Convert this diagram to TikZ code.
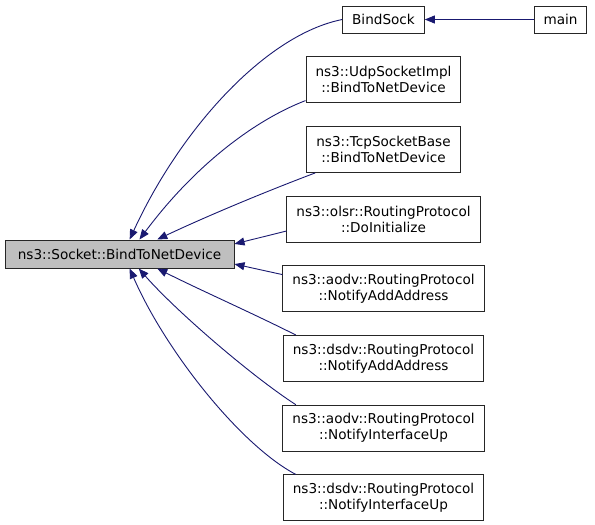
\documentclass[tikz,border=0pt]{standalone}
\usepackage{fontspec}
\setmainfont{DejaVu Sans}
\usetikzlibrary{arrows.meta}
\usetikzlibrary{positioning}
\definecolor{midnight}{HTML}{191970}
\definecolor{grey75}{HTML}{BFBFBF}
\tikzset {
  graph node/.style = {
    draw = black!85,
    line width = 1pt,
    rectangle,
    inner xsep = 9.5pt,
    inner ysep = 2pt,
    align = center,
    font = \fontsize{13.6}{16}\selectfont
  },
  % single line function
  func/.style = {
    graph node,
    minimum height = 27pt
  },
  % qualified member, two lines
  member/.style = {
    graph node,
    minimum height = 46pt
  },
  % the function the graph is about
  focus/.style = {
    func,
    fill = grey75,
    minimum width = 229pt,
    minimum height = 28pt
  },
  node distance = 22.7pt
}
\tikzset {
  % call edge, arrow points at the callee
  call/.style = {
    draw = midnight,
    line width = 0.9pt,
    -{Triangle[length=10pt,width=8pt]}
  }
}

\begin{document}
\begin{tikzpicture}[x=1pt,y=-1pt]
    \useasboundingbox (0,0) rectangle (595,525);

    \node[focus] (socket) at (119.5,254) {ns3::Socket::BindToNetDevice};
    \node[func] (bindsock) at (383.5,19.5) {BindSock};
    \node[func] (main) at (560.5,19.5) {main};
    \node[member] (udp) [below=of bindsock] {ns3::UdpSocketImpl\\::BindToNetDevice};
    \node[member] (tcp) [below=of udp] {ns3::TcpSocketBase\\::BindToNetDevice};
    \node[member] (olsr) [below=of tcp] {ns3::olsr::RoutingProtocol\\::DoInitialize};
    \node[member] (aodv add) [below=of olsr] {ns3::aodv::RoutingProtocol\\::NotifyAddAddress};
    \node[member] (dsdv add) [below=of aodv add] {ns3::dsdv::RoutingProtocol\\::NotifyAddAddress};
    \node[member] (aodv up) [below=of dsdv add] {ns3::aodv::RoutingProtocol\\::NotifyInterfaceUp};
    \node[member] (dsdv up) [below=of aodv up] {ns3::dsdv::RoutingProtocol\\::NotifyInterfaceUp};

    \draw[call] (main) -- (bindsock);

    \draw[call] (bindsock.west)
      .. controls (265,35) and (180,130) .. (socket.55);
    \draw[call] (udp.-165)
      .. controls (255,120) and (195,165) .. (socket.36);
    \draw[call] (tcp.-161)
      .. controls (262,193) and (205,217) .. (socket.21);
    \draw[call] (olsr.-173) -- (socket.5);
    \draw[call] (aodv add.172) -- (socket.-5);
    \draw[call] (dsdv add.165)
      .. controls (250,312) and (200,290) .. (socket.-21);
    \draw[call] (aodv up.165)
      .. controls (250,375) and (175,310) .. (socket.-37);
    \draw[call] (dsdv up.165)
      .. controls (240,445) and (165,350) .. (socket.-55);
  \end{tikzpicture}
\end{document}
